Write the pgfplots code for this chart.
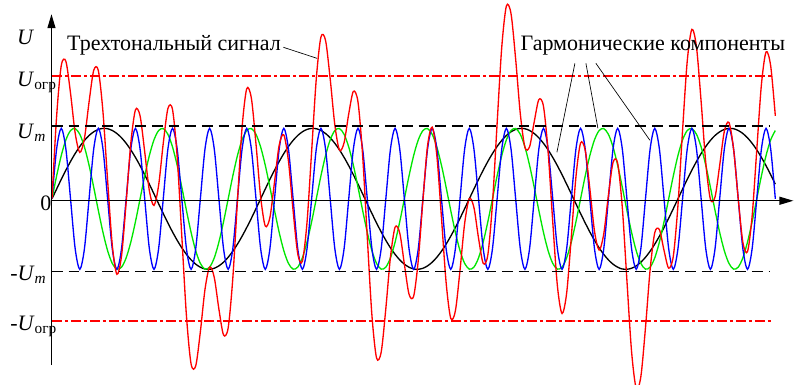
\documentclass[border=0pt]{standalone}
\usepackage{pgfplots}
\pgfplotsset{compat=1.18}
\usepackage{pgfplotstable}
\usepackage{fontspec}
\setmainfont{Liberation Serif}
\usetikzlibrary{arrows.meta}
\definecolor{cblue}{RGB}{0,0,255}
\definecolor{cgreen}{RGB}{0,230,0}
\definecolor{cred}{RGB}{255,0,0}
\newcommand{\fs}{\fontsize{16.5pt}{19pt}\selectfont}
\newcommand{\sub}[1]{\raisebox{-0.35ex}{\fontsize{11.5pt}{13pt}\selectfont #1}}
\pgfplotstableread{
k b g c r
0 0 0 0 0
1 0.707 0.325 0.139 1.171
2 1 0.614 0.276 1.890
3 0.707 0.837 0.407 1.951
4 0 0.969 0.530 1.499
5 -0.707 0.997 0.643 0.933
6 -1 0.916 0.743 0.659
7 -0.707 0.736 0.829 0.858
8 0 0.476 0.899 1.375
9 0.707 0.165 0.951 1.823
10 1 -0.165 0.985 1.820
11 0.707 -0.476 0.999 1.230
12 0 -0.736 0.995 0.259
13 -0.707 -0.916 0.970 -0.653
14 -1 -0.997 0.927 -1.070
15 -0.707 -0.969 0.866 -0.810
16 0 -0.837 0.788 -0.049
17 0.707 -0.614 0.695 0.788
18 1 -0.325 0.588 1.263
19 0.707 0 0.470 1.177
20 0 0.325 0.342 0.667
21 -0.707 0.614 0.208 0.115
22 -1 0.837 0.070 -0.093
23 -0.707 0.969 -0.070 0.192
24 0 0.997 -0.208 0.789
25 0.707 0.916 -0.342 1.281
26 1 0.736 -0.470 1.266
27 0.707 0.476 -0.588 0.595
28 0 0.165 -0.695 -0.530
29 -0.707 -0.165 -0.788 -1.660
30 -1 -0.476 -0.866 -2.342
31 -0.707 -0.736 -0.927 -2.370
32 0 -0.916 -0.970 -1.886
33 0.707 -0.997 -0.995 -1.285
34 1 -0.969 -0.999 -0.968
35 0.707 -0.837 -0.985 -1.115
36 0 -0.614 -0.951 -1.565
37 -0.707 -0.325 -0.899 -1.931
38 -1 0 -0.829 -1.829
39 -0.707 0.325 -0.743 -1.125
40 0 0.614 -0.643 -0.029
41 0.707 0.837 -0.530 1.014
42 1 0.969 -0.407 1.562
43 0.707 0.997 -0.276 1.428
44 0 0.916 -0.139 0.777
45 -0.707 0.736 0 0.029
46 -1 0.476 0.139 -0.385
47 -0.707 0.165 0.276 -0.266
48 0 -0.165 0.407 0.242
49 0.707 -0.476 0.530 0.761
50 1 -0.736 0.643 0.907
51 0.707 -0.916 0.743 0.534
52 0 -0.997 0.829 -0.168
53 -0.707 -0.969 0.899 -0.777
54 -1 -0.837 0.951 -0.886
55 -0.707 -0.614 0.985 -0.336
56 0 -0.325 0.999 0.674
57 0.707 0 0.995 1.702
58 1 0.325 0.970 2.295
59 0.707 0.614 0.927 2.248
60 0 0.837 0.866 1.703
61 -0.707 0.969 0.788 1.050
62 -1 0.997 0.695 0.692
63 -0.707 0.916 0.588 0.797
64 0 0.736 0.470 1.206
65 0.707 0.476 0.342 1.525
66 1 0.165 0.208 1.373
67 0.707 -0.165 0.070 0.612
68 0 -0.476 -0.070 -0.546
69 -0.707 -0.736 -0.208 -1.651
70 -1 -0.916 -0.342 -2.258
71 -0.707 -0.997 -0.470 -2.174
72 0 -0.969 -0.588 -1.557
73 0.707 -0.837 -0.695 -0.825
74 1 -0.614 -0.788 -0.402
75 0.707 -0.325 -0.866 -0.484
76 0 0 -0.927 -0.927
77 -0.707 0.325 -0.970 -1.352
78 -1 0.614 -0.995 -1.381
79 -0.707 0.837 -0.999 -0.869
80 0 0.969 -0.985 -0.016
81 0.707 0.997 -0.951 0.753
82 1 0.916 -0.899 1.017
83 0.707 0.736 -0.829 0.614
84 0 0.476 -0.743 -0.267
85 -0.707 0.165 -0.643 -1.185
86 -1 -0.165 -0.530 -1.695
87 -0.707 -0.476 -0.407 -1.590
88 0 -0.736 -0.276 -1.012
89 0.707 -0.916 -0.139 -0.348
90 1 -0.997 0 0.003
91 0.707 -0.969 0.139 -0.123
92 0 -0.837 0.276 -0.561
93 -0.707 -0.614 0.407 -0.914
94 -1 -0.325 0.530 -0.795
95 -0.707 0 0.643 -0.064
96 0 0.325 0.743 1.068
97 0.707 0.614 0.829 2.150
98 1 0.837 0.899 2.736
99 0.707 0.969 0.951 2.627
100 0 0.997 0.985 1.982
101 -0.707 0.916 0.999 1.208
102 -1 0.736 0.995 0.731
103 -0.707 0.476 0.970 0.739
104 0 0.165 0.927 1.092
105 0.707 -0.165 0.866 1.408
106 1 -0.476 0.788 1.312
107 0.707 -0.736 0.695 0.666
108 0 -0.916 0.588 -0.328
109 -0.707 -0.997 0.470 -1.234
110 -1 -0.969 0.342 -1.627
111 -0.707 -0.837 0.208 -1.336
112 0 -0.614 0.070 -0.544
113 0.707 -0.325 -0.070 0.312
114 1 0 -0.208 0.792
115 0.707 0.325 -0.342 0.690
116 0 0.614 -0.470 0.144
117 -0.707 0.837 -0.588 -0.458
118 -1 0.969 -0.695 -0.726
119 -0.707 0.997 -0.788 -0.498
120 0 0.916 -0.866 0.050
121 0.707 0.736 -0.927 0.516
122 1 0.476 -0.970 0.506
123 0.707 0.165 -0.995 -0.123
124 0 -0.165 -0.999 -1.164
125 -0.707 -0.476 -0.985 -2.168
126 -1 -0.736 -0.951 -2.687
127 -0.707 -0.916 -0.899 -2.522
128 0 -0.997 -0.829 -1.826
129 0.707 -0.969 -0.743 -1.005
130 1 -0.837 -0.643 -0.480
131 0.707 -0.614 -0.530 -0.437
132 0 -0.325 -0.407 -0.732
133 -0.707 0 -0.276 -0.983
134 -1 0.325 -0.139 -0.814
135 -0.707 0.614 0 -0.093
136 0 0.837 0.139 0.976
137 0.707 0.969 0.276 1.952
138 1 0.997 0.407 2.404
139 0.707 0.916 0.530 2.153
140 0 0.736 0.643 1.379
141 -0.707 0.476 0.743 0.512
142 -1 0.165 0.829 -0.006
143 -0.707 -0.165 0.899 0.027
144 0 -0.476 0.951 0.475
145 0.707 -0.736 0.985 0.956
146 1 -0.916 0.999 1.083
147 0.707 -0.997 0.995 0.705
148 0 -0.969 0.970 0.001
149 -0.707 -0.837 0.927 -0.617
150 -1 -0.614 0.866 -0.748
151 -0.707 -0.325 0.788 -0.244
152 0 0 0.695 0.695
153 0.707 0.325 0.588 1.620
154 1 0.614 0.470 2.084
155 0.707 0.837 0.342 1.886
156 0 0.969 0.208 1.177
}\sig
\begin{document}
\begin{tikzpicture}
\begin{axis}[scale only axis, width=595.5pt, height=288pt,
  xmin=-11.21, xmax=160, ymin=-2.630, ymax=2.817,
  axis line style={draw=none}, xtick=\empty, ytick=\empty,
  clip mode=individual]
\addplot[black, line width=1pt, smooth, mark=none] table[x=k,y=c]{\sig};
\addplot[cgreen, line width=1pt, smooth, mark=none] table[x=k,y=g]{\sig};
\addplot[cblue, line width=1pt, smooth, mark=none] table[x=k,y=b]{\sig};
\addplot[cred, line width=1pt, smooth, mark=none] table[x=k,y=r]{\sig};
% reference levels
\draw[black, line width=1pt, dash pattern=on 8pt off 4.5pt] (0,1.034) -- (154.8,1.034);
\draw[black, line width=1pt, dash pattern=on 8pt off 4.5pt] (0,-1.027) -- (154.8,-1.027);
\draw[cred, line width=1.2pt, dash pattern=on 7.5pt off 2.25pt on 2.25pt off 2.25pt] (0,1.739) -- (155.5,1.739);
\draw[cred, line width=1.2pt, dash pattern=on 7.5pt off 2.25pt on 2.25pt off 2.25pt] (0,-1.736) -- (155.5,-1.736);
% axes
\draw[black, line width=0.9pt, -{Triangle[length=10.5pt,width=6pt]}] (-0.108,-2.36) -- (-0.108,2.62);
\draw[black, line width=0.9pt, -{Triangle[length=10.5pt,width=6pt]}] (-0.108,-0.027) -- (159.9,-0.027);
% labels
\node[anchor=base west, font=\fs, inner sep=0] at (3.23,2.108) {Трехтональный сигнал};
\node[anchor=base west, font=\fs, inner sep=0] at (101.0,2.108) {Гармонические компоненты};
\node[font=\fs\itshape, inner sep=0] at (-5.82,2.292) {U};
\node[anchor=base west, font=\fs, inner sep=0] at (-7.55,1.597) {\textit{U}\sub{огр}};
\node[anchor=base west, font=\fs, inner sep=0] at (-7.55,0.86) {\textit{U}\sub{\textit{m}}};
\node[font=\fs, inner sep=0] at (-1.29,-0.062) {0};
\node[anchor=base west, font=\fs, inner sep=0] at (-9.05,-1.155) {-\textit{U}\sub{\textit{m}}};
\node[anchor=base west, font=\fs, inner sep=0] at (-9.05,-1.864) {-\textit{U}\sub{огр}};
% leader lines
\draw[black, line width=0.5pt] (49.9,2.15) -- (57.14,1.994);
\draw[black, line width=0.5pt] (112.78,1.923) -- (108.9,0.661);
\draw[black, line width=0.5pt] (115.15,1.923) -- (117.74,1.001);
\draw[black, line width=0.5pt] (117.3,1.923) -- (128.95,0.831);
\end{axis}
\end{tikzpicture}
\end{document}
